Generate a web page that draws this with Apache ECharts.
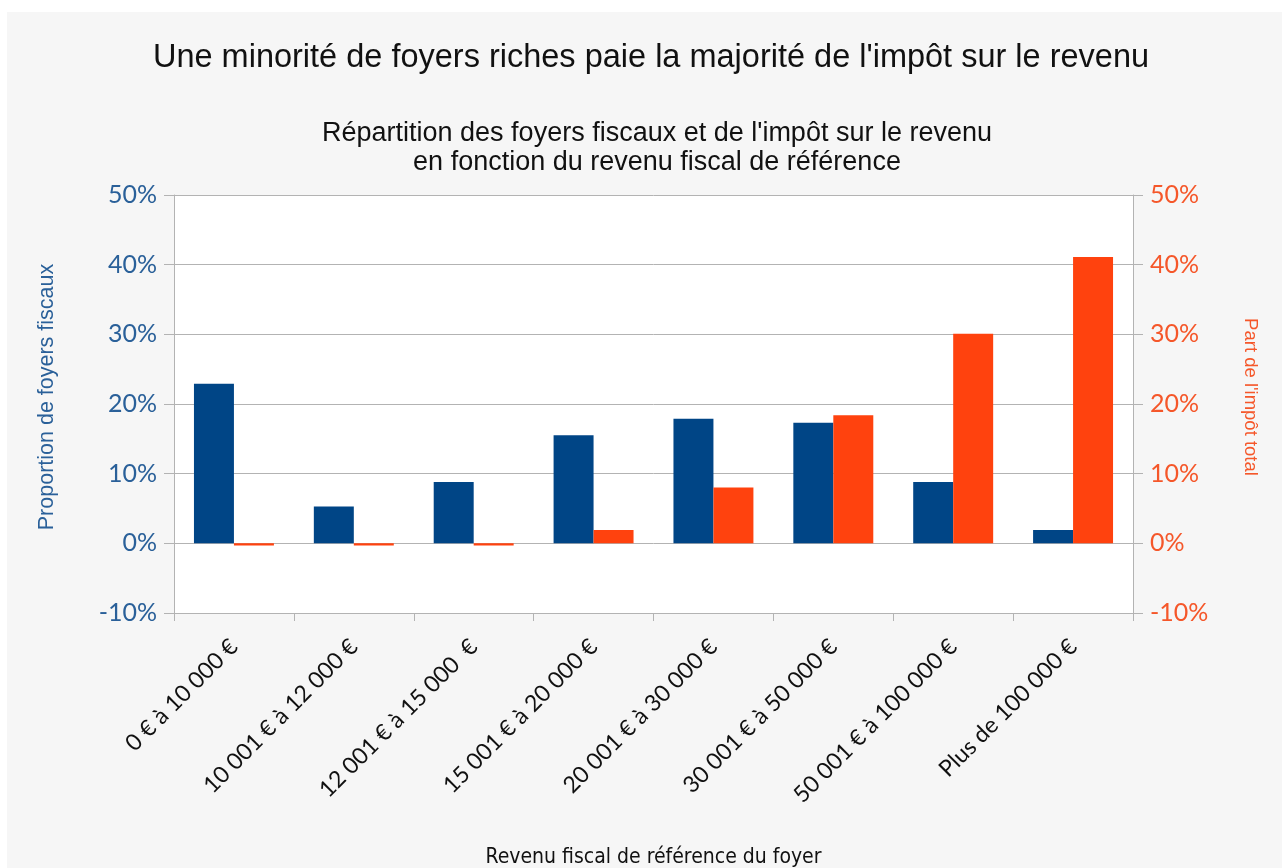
<!DOCTYPE html>
<html>
<head>
<meta charset="utf-8">
<script src="https://cdn.jsdelivr.net/npm/echarts@6/dist/echarts.min.js"></script>
<style>
html,body{margin:0;padding:0;background:#fff;width:1282px;height:868px;overflow:hidden;}
#panel{position:absolute;left:7px;top:12px;width:1275px;height:856px;background:#f6f6f6;}
#chart{position:absolute;left:0;top:0;width:1282px;height:868px;}
</style>
</head>
<body>
<div id="panel"></div>
<div id="chart"></div>
<script>
const categories = ['0 € à 10 000 €', '10 001 € à 12 000 €', '12 001 € à 15 000  €', '15 001 € à 20 000 €', '20 001 € à 30 000 €', '30 001 € à 50 000 €', '50 001 € à 100 000 €', 'Plus de 100 000 €'];
const foyers = [22.9, 5.3, 8.8, 15.5, 17.9, 17.3, 8.8, 1.9];
const impot = [-0.3, -0.3, -0.3, 1.9, 8.0, 18.4, 30.1, 41.1];
const yTicks = {min: -10, max: 50, interval: 10};

const blue = '#004586', orange = '#ff420e';
const blueText = '#2a6099', orangeText = '#f5572a';
const gridColor = '#b3b3b3';

const chart = echarts.init(document.getElementById('chart'));
chart.setOption({
  backgroundColor: 'transparent',
  animation: false,
  title: [
    {text: "Une minorité de foyers riches paie la majorité de l'impôt sur le revenu", left: 646, top: 37, textAlign: 'center',
     textStyle: {fontFamily: 'Liberation Sans', fontSize: 32.5, fontWeight: 'normal', color: '#111'}},
    {text: "Répartition des foyers fiscaux et de l'impôt sur le revenu\nen fonction du revenu fiscal de référence", left: 652, top: 114, textAlign: 'center',
     textStyle: {fontFamily: 'Liberation Sans', fontSize: 27, fontWeight: 'normal', color: '#111', lineHeight: 29, align: 'center'}}
  ],
  grid: {left: 174, right: 149, top: 195, bottom: 255, show: true, backgroundColor: '#fff', borderWidth: 0, outerBoundsMode: 'none', containLabel: false},
  xAxis: {
    type: 'category', data: categories,
    name: 'Revenu fiscal de référence du foyer', nameLocation: 'middle', nameGap: 234,
    nameTextStyle: {fontFamily: "'DejaVu Sans Condensed', 'Liberation Sans Narrow', 'Liberation Sans', sans-serif", fontSize: 21, color: '#111'},
    axisLine: {onZero: false, lineStyle: {color: gridColor}},
    axisTick: {show: true, length: 8, lineStyle: {color: gridColor}},
    axisLabel: {rotate: 45, fontFamily: 'Lato', fontSize: 23, color: '#111', margin: 30}
  },
  yAxis: [
    {type: 'value', min: yTicks.min, max: yTicks.max, interval: yTicks.interval,
     name: 'Proportion de foyers fiscaux', nameLocation: 'middle', nameGap: 116, nameRotate: 90,
     nameTextStyle: {fontFamily: 'Liberation Sans', fontSize: 21.5, color: blueText, padding: [0, 0, 0, 14]},
     axisLine: {show: true, lineStyle: {color: gridColor}},
     axisTick: {show: true, length: 10, lineStyle: {color: gridColor}},
     splitLine: {show: true, lineStyle: {color: gridColor}},
     axisLabel: {formatter: '{value}%', fontFamily: 'Lato', fontSize: 25, color: blueText, margin: 17}},
    {type: 'value', min: yTicks.min, max: yTicks.max, interval: yTicks.interval, position: 'right',
     name: "Part de l'impôt total", nameLocation: 'middle', nameGap: 108, nameRotate: -90,
     nameTextStyle: {fontFamily: 'Liberation Sans', fontSize: 18.5, color: orangeText, padding: [0, 14, 0, 0]},
     axisLine: {show: true, lineStyle: {color: gridColor}},
     axisTick: {show: true, length: 10, lineStyle: {color: gridColor}},
     splitLine: {show: false},
     axisLabel: {formatter: '{value}%', fontFamily: 'Lato', fontSize: 25, color: orangeText, margin: 17}}
  ],
  series: [
    {type: 'bar', name: 'Proportion de foyers fiscaux', data: foyers, yAxisIndex: 0,
     itemStyle: {color: blue}, barCategoryGap: '33.3%', barGap: '0%'},
    {type: 'bar', name: "Part de l'impôt total", data: impot, yAxisIndex: 1,
     itemStyle: {color: orange}, barCategoryGap: '33.3%', barGap: '0%'}
  ]
});
</script>
</body>
</html>
